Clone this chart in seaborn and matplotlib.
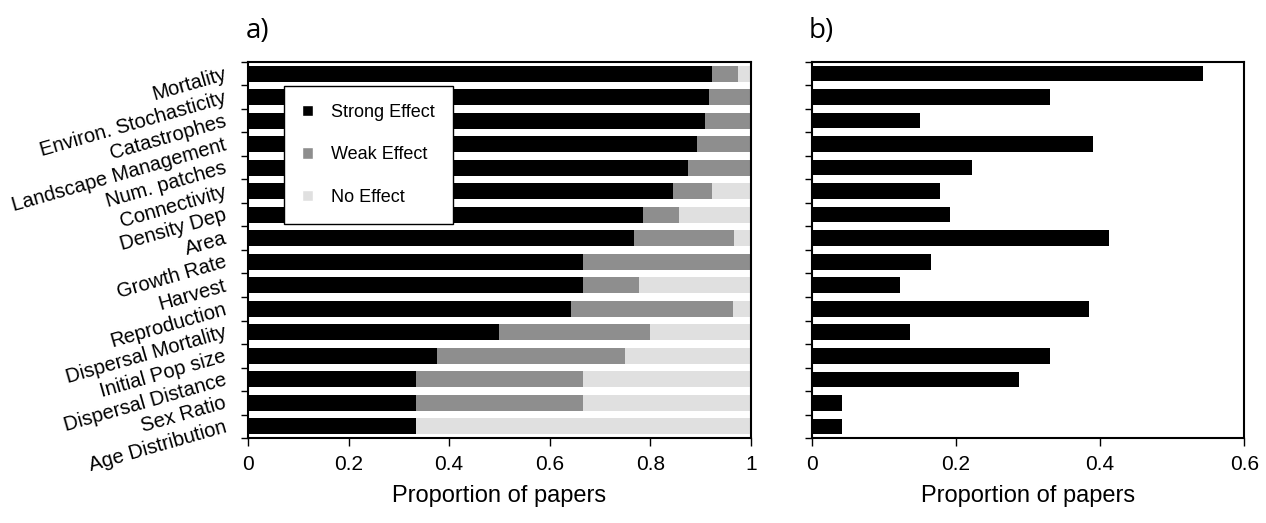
import numpy as np
import pandas as pd
import matplotlib
matplotlib.use("Agg")
import matplotlib.pyplot as plt
from matplotlib.patches import Patch
import seaborn as sns

# data
factors = ["Mortality", "Environ. Stochasticity", "Catastrophes", "Landscape Management",
           "Num. patches", "Connectivity", "Density Dep", "Area", "Growth Rate", "Harvest",
           "Reproduction", "Dispersal Mortality", "Initial Pop size", "Dispersal Distance",
           "Sex Ratio", "Age Distribution"]
strong = [0.923, 0.917, 0.909, 0.893, 0.875, 0.846, 0.786, 0.767, 0.667, 0.667,
          0.643, 0.500, 0.375, 0.333, 0.333, 0.333]
weak = [0.051, 0.083, 0.091, 0.107, 0.125, 0.077, 0.071, 0.200, 0.333, 0.111,
        0.321, 0.300, 0.375, 0.333, 0.333, 0.000]
no_effect = [0.026, 0.000, 0.000, 0.000, 0.000, 0.077, 0.143, 0.033, 0.000, 0.222,
             0.036, 0.200, 0.250, 0.333, 0.333, 0.667]
papers = [0.543, 0.330, 0.151, 0.390, 0.222, 0.178, 0.192, 0.412, 0.165, 0.123,
          0.384, 0.137, 0.330, 0.288, 0.042, 0.042]

sns.set_theme(style="white")
plt.rcParams['font.family'] = ['Liberation Sans', 'DejaVu Sans']
plt.rcParams.update({"text.color": "black", "axes.labelcolor": "black",
                     "xtick.color": "black", "ytick.color": "black"})

df = pd.DataFrame({"factor": factors, "strong": strong, "weak": weak, "none": no_effect,
                   "papers": papers})
df["sw"] = df["strong"] + df["weak"]
df["total"] = df["sw"] + df["none"]

fig = plt.figure(figsize=(12.66, 5.23), dpi=100)
ax1 = fig.add_axes([0.196, 0.1625, 0.397, 0.719])
ax2 = fig.add_axes([0.641, 0.1625, 0.342, 0.719])

bw = 0.7
# stacked: draw cumulative totals back to front
sns.barplot(data=df, x="total", y="factor", orient="h", color="#e0e0e0", width=bw,
            saturation=1, ax=ax1, edgecolor="none")
sns.barplot(data=df, x="sw", y="factor", orient="h", color="#8e8e8e", width=bw,
            saturation=1, ax=ax1, edgecolor="none")
sns.barplot(data=df, x="strong", y="factor", orient="h", color="black", width=bw,
            saturation=1, ax=ax1, edgecolor="none")

sns.barplot(data=df, x="papers", y="factor", orient="h", color="black", width=0.66,
            saturation=1, ax=ax2, edgecolor="none")

n = len(factors)
for ax, xmax, xt in [(ax1, 1, [0, 0.2, 0.4, 0.6, 0.8, 1]), (ax2, 0.6, [0, 0.2, 0.4, 0.6])]:
    ax.set_xlim(0, xmax)
    ax.set_ylim(n - 0.5, -0.5)
    ax.set_xticks(xt)
    ax.set_xticklabels([f"{v:g}" for v in xt], fontsize=15)
    ax.set_xlabel("Proportion of papers", fontsize=17, labelpad=8)
    ax.set_ylabel("")
    ax.set_yticks(np.arange(-0.5, n, 1.0), minor=True)
    ax.tick_params(axis="y", which="minor", left=True, length=5, width=1, color="black",
                   direction="out")
    ax.tick_params(axis="y", which="major", left=False, length=0)
    ax.tick_params(axis="x", bottom=True, length=6, width=1, color="black", direction="out",
                   pad=6)
    for s in ax.spines.values():
        s.set_visible(True)
        s.set_color("black")
        s.set_linewidth(1.5)

ax1.set_yticks(range(n))
ax1.set_yticklabels(factors, fontsize=14.5, rotation=16, ha="right", va="center",
                    rotation_mode="anchor")
ax1.tick_params(axis="y", which="major", pad=16)
ax2.set_yticks(range(n))
ax2.set_yticklabels([])

handles = [Patch(facecolor="black", label="Strong Effect"),
           Patch(facecolor="#8e8e8e", label="Weak Effect"),
           Patch(facecolor="#e0e0e0", label="No Effect")]
leg = ax1.legend(handles=handles, loc="upper left", bbox_to_anchor=(0.072, 0.936),
                 fontsize=13, frameon=True, fancybox=False, handlelength=0.6,
                 handleheight=0.6, handletextpad=1.0, labelspacing=1.4,
                 borderpad=1.0, borderaxespad=0, framealpha=1)
leg.get_frame().set_edgecolor("black")
leg.get_frame().set_facecolor("white")
leg.get_frame().set_linewidth(1)

fig.text(0.194, 0.94, "a)", fontsize=20, family="Open Sans", va="center")
fig.text(0.639, 0.94, "b)", fontsize=20, family="Open Sans", va="center")

fig.savefig("out.png", dpi=100)
